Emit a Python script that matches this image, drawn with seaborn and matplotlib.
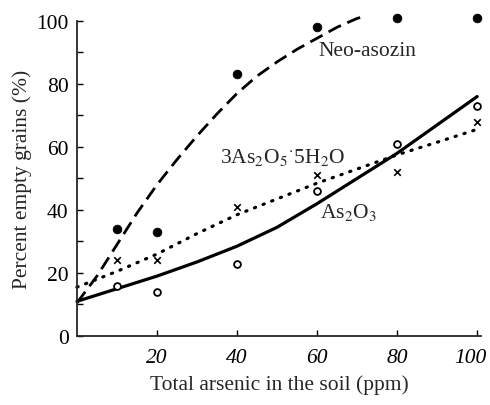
import numpy as np
import pandas as pd
import matplotlib
matplotlib.use("Agg")
import matplotlib.pyplot as plt
import matplotlib.transforms as mtransforms
import seaborn as sns

# ---- data ----
doses = [10, 20, 40, 60, 80, 100]
neo_pts = [34, 33, 83, 98, 101, 101]
as2o5_pts = [24, 24, 41, 51, 52, 68]
as2o3_pts = [16, 14, 23, 46, 61, 73]

neo_curve_x = [0, 5, 10, 15, 20, 25, 30, 35, 40, 45, 50, 55, 60, 65, 70, 72]
neo_curve_y = [10.5, 19, 29, 39, 48, 56, 63.5, 70.5, 77, 82.5, 87, 91, 94.5, 98, 100.8, 101.5]

as2o5_curve_x = [0, 10, 20, 30, 40, 50, 60, 70, 80, 90, 101]
as2o5_curve_y = [15.5, 20.5, 26, 32.5, 38.5, 43.5, 48.5, 53, 57.5, 61.5, 66]

as2o3_curve_x = [0, 10, 20, 30, 40, 50, 60, 70, 80, 90, 100]
as2o3_curve_y = [11, 15, 19, 23.5, 28.5, 34.5, 42, 50, 58, 67, 76]

x_ticks = [20, 40, 60, 80, 100]
y_ticks = [0, 20, 40, 60, 80, 100]

sns.set_style("ticks")
plt.rcParams['font.family'] = ['Liberation Serif', 'DejaVu Serif']
plt.rcParams['mathtext.fontset'] = 'stix'

FS = 15.5

fig = plt.figure(figsize=(4.9, 4.06), dpi=100)
ax = fig.add_axes([0.157, 0.170, 0.825, 0.776])

sns.lineplot(x=neo_curve_x, y=neo_curve_y, ax=ax, color='black', lw=2.0,
             linestyle=(0, (5, 2.5)), clip_on=False)
sns.lineplot(x=as2o5_curve_x, y=as2o5_curve_y, ax=ax, color='black', lw=2.3,
             linestyle=(0, (0.4, 2.5)), dash_capstyle='round', clip_on=False)
sns.lineplot(x=as2o3_curve_x, y=as2o3_curve_y, ax=ax, color='black', lw=2.3,
             clip_on=False)

sns.scatterplot(x=doses, y=neo_pts, ax=ax, color='black', s=40, marker='o',
                edgecolor='black', clip_on=False, zorder=5)
sns.scatterplot(x=doses, y=as2o5_pts, ax=ax, color='black', s=22, marker='x',
                linewidth=1.2, clip_on=False, zorder=5)
sns.scatterplot(x=doses, y=as2o3_pts, ax=ax, s=24, marker='o',
                facecolor='white', edgecolor='black', linewidth=1.3,
                clip_on=False, zorder=5)

ax.set_xlim(0, 101)
ax.set_ylim(0, 100)
sns.despine(ax=ax)
ax.spines['left'].set_linewidth(1.3)
ax.spines['bottom'].set_linewidth(1.3)

ax.set_xticks(x_ticks)
ax.set_xticklabels([str(v) for v in x_ticks], fontstyle='italic')
ax.set_yticks(y_ticks)
ax.set_yticks([10, 30, 50, 70, 90], minor=True)
ax.tick_params(axis='both', which='both', direction='in', length=4,
               width=1.0, labelsize=FS, color='black', labelcolor='black')
ax.tick_params(axis='x', pad=9)
ax.tick_params(axis='y', pad=6)

# nudge the last x tick label left so it stays inside the figure
last = ax.get_xticklabels()[-1]
last.set_transform(last.get_transform() +
                   mtransforms.ScaledTranslation(-5 / 72, 0, fig.dpi_scale_trans))

ax.set_xlabel('Total arsenic in the soil (ppm)', fontsize=FS, labelpad=5)
ax.set_ylabel('Percent empty grains (%)', fontsize=FS, labelpad=3)

ax.text(60.3, 90.5, 'Neo-asozin', fontsize=FS, va='center', ha='left')
ax.text(35.8, 57, r'3As$_2$O$_5$$^{\cdot}$5H$_2$O', fontsize=FS, va='center', ha='left')
ax.text(60.8, 39.4, r'As$_2$O$_3$', fontsize=FS, va='center', ha='left')

fig.savefig('out.png', dpi=100)
